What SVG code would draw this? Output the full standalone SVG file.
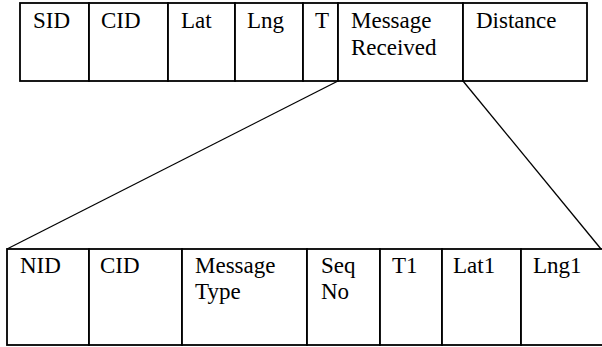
<svg xmlns="http://www.w3.org/2000/svg" width="602" height="347" viewBox="0 0 602 347">
  <style>
    .cell { fill: #ffffff; stroke: #000000; stroke-width: 1.8; }
    .link { fill: none; stroke: #000000; stroke-width: 1.3; }
  </style>
  <rect x="0" y="0" width="602" height="347" fill="#ffffff"/>

  <!-- expansion lines from the "Message Received" field to the lower record -->
  <g id="connectors">
    <line class="link" x1="338" y1="81" x2="7" y2="249"/>
    <line class="link" x1="463" y1="81" x2="601" y2="249"/>
  </g>

  <g font-family="Liberation Serif" font-size="23" fill="#000000">
    <!-- upper record -->
    <g id="sid"><rect class="cell" x="20" y="3" width="69" height="78"/><text x="33" y="28">SID</text></g>
    <g id="cid-top"><rect class="cell" x="89" y="3" width="79" height="78"/><text x="101" y="28">CID</text></g>
    <g id="lat"><rect class="cell" x="168" y="3" width="67" height="78"/><text x="181" y="28">Lat</text></g>
    <g id="lng"><rect class="cell" x="235" y="3" width="68" height="78"/><text x="247" y="28">Lng</text></g>
    <g id="t"><rect class="cell" x="303" y="3" width="35" height="78"/><text x="315" y="28">T</text></g>
    <g id="message-received"><rect class="cell" x="338" y="3" width="125" height="78"/><text x="351" y="28">Message</text><text x="351" y="55">Received</text></g>
    <g id="distance"><rect class="cell" x="463" y="3" width="124" height="78"/><text x="476" y="28">Distance</text></g>

    <!-- lower record -->
    <g id="nid"><rect class="cell" x="7" y="249" width="82" height="96"/><text x="20" y="273">NID</text></g>
    <g id="cid-bottom"><rect class="cell" x="89" y="249" width="93" height="96"/><text x="100" y="273">CID</text></g>
    <g id="message-type"><rect class="cell" x="182" y="249" width="125" height="96"/><text x="195" y="273">Message</text><text x="195" y="299">Type</text></g>
    <g id="seq-no"><rect class="cell" x="307" y="249" width="73" height="96"/><text x="321" y="273">Seq</text><text x="321" y="299">No</text></g>
    <g id="t1"><rect class="cell" x="380" y="249" width="62" height="96"/><text x="392" y="273">T1</text></g>
    <g id="lat1"><rect class="cell" x="442" y="249" width="79" height="96"/><text x="453" y="273">Lat1</text></g>
    <g id="lng1"><rect class="cell" x="521" y="249" width="82" height="96"/><text x="533" y="273">Lng1</text></g>
  </g>
</svg>
